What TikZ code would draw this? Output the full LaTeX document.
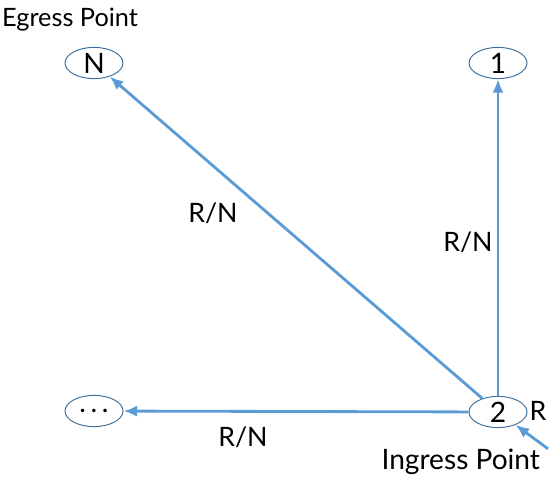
\documentclass[tikz,border=0pt]{standalone}
\usepackage{fontspec}
\setmainfont{Lato}
\usetikzlibrary{positioning,shapes.geometric,arrows.meta}

\definecolor{linkblue}{HTML}{5B9BD5}
\definecolor{ringblue}{HTML}{41719C}

\tikzset{
  router/.style={ellipse, draw=ringblue, line width=0.7pt, minimum width=1.45cm,
    minimum height=0.78cm, inner sep=0pt, font=\fontsize{20}{24}\selectfont},
  link/.style={draw=linkblue, line width=2pt, -{Latex[length=3.4mm,width=2.8mm]}},
  lbl/.style={font=\fontsize{19}{23}\selectfont}
}

\begin{document}
\begin{tikzpicture}
\useasboundingbox (0,0) rectangle (13.85,-11.975);
\node[router] (N) at (2.35, -1.575) {N};
\node[router] (I) at (12.45, -1.575) {1};
\node[router] (D) at (2.35, -10.275) {.\,.\,.};
\node[router] (T) at (12.45, -10.30) {2};
\coordinate (Rin) at (13.70, -11.22);
\draw[link] (T) -- (N);
\draw[link] (T) -- (I);
\draw[link] (T) -- (D);
\draw[link] (Rin) -- (T);
\node[lbl, font=\fontsize{18}{22}\selectfont] (eg) at (1.75, -0.50) {Egress Point};
\node[lbl, font=\fontsize{20}{24}\selectfont] (ig) at (11.52, -11.55) {Ingress Point};
\node[lbl] (rn1) at (5.325, -5.325) {R/N};
\node[lbl] (rn2) at (11.70, -6.05) {R/N};
\node[lbl] (rn3) at (6.075, -10.925) {R/N};
\node[lbl] (r) at (13.45, -10.275) {R};
\end{tikzpicture}
\end{document}
